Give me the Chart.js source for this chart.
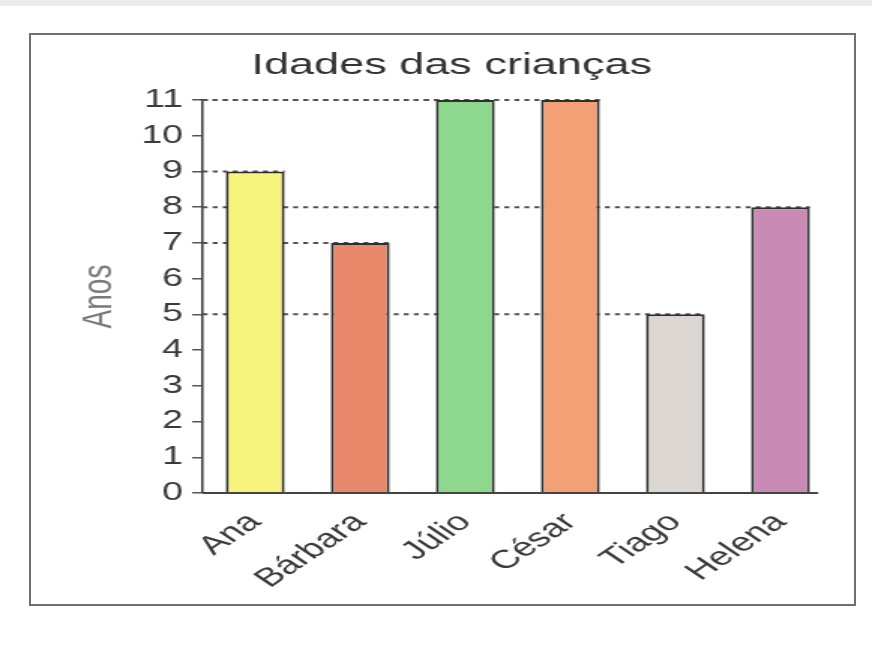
<!DOCTYPE html>
<html>
<head>
<meta charset="utf-8">
<script src="https://cdn.jsdelivr.net/npm/chart.js"></script>
<style>
  body { margin: 0; background: #fff; }
  #wrap { position: relative; width: 872px; height: 652px; overflow: hidden; }
  #faixa { position: absolute; left: 0; top: 0; width: 872px; height: 6px; background: #ececec; }
  #myChart { position: absolute; left: 0; top: 0; }
  #frame { position: absolute; left: 29px; top: 33px; width: 823px; height: 569px; border: 2px solid #707070; pointer-events: none; }
</style>
</head>
<body>
<div id="wrap">
  <!-- o grafico original e uma digitalizacao esticada na horizontal: desenhamos mais estreito e esticamos -->
  <canvas id="myChart" width="581" height="652" style="width:872px;height:652px"></canvas>
  <div id="faixa"></div>
  <div id="frame"></div>
</div>
<script>
var criancas = ["Ana", "Bárbara", "Júlio", "César", "Tiago", "Helena"];
var idades = [9, 7, 11, 11, 5, 8];
var barColors = ["#f8f37c", "#e9896b", "#8ed88e", "#f3a077", "#dcd7d3", "#c98bb6"];

// linhas tracejadas do eixo ate o topo de cada barra (atras das barras) + linha de base
var linhasGuia = {
  id: "linhasGuia",
  beforeDatasetsDraw: function(chart) {
    var ctx = chart.ctx;
    var meta = chart.getDatasetMeta(0);
    var left = chart.chartArea.left;
    ctx.save();
    ctx.strokeStyle = "#505050";
    ctx.lineWidth = 2;
    ctx.setLineDash([3.3, 3.4]);
    meta.data.forEach(function(bar) {
      ctx.beginPath();
      ctx.moveTo(left, bar.y);
      ctx.lineTo(bar.x + bar.width / 2, bar.y);
      ctx.stroke();
    });
    ctx.restore();
  },
  afterDatasetsDraw: function(chart) {
    var ctx = chart.ctx;
    var meta = chart.getDatasetMeta(0);
    var last = meta.data[meta.data.length - 1];
    var y = chart.chartArea.bottom;
    ctx.save();
    ctx.strokeStyle = "#444";
    ctx.lineWidth = 2;
    ctx.beginPath();
    ctx.moveTo(chart.chartArea.left, y);
    ctx.lineTo(last.x + last.width * 0.64, y);
    ctx.stroke();
    ctx.restore();
  }
};

new Chart("myChart", {
  type: "bar",
  data: {
    labels: criancas,
    datasets: [{
      data: idades,
      backgroundColor: barColors,
      borderColor: "#2e2e2e",
      borderWidth: 2,
      borderSkipped: "bottom",
      categoryPercentage: 1,
      barPercentage: 0.56
    }]
  },
  options: {
    responsive: false,
    animation: false,
    devicePixelRatio: 1,
    layout: { padding: { left: 47, right: 26, top: 40, bottom: 10 } },
    plugins: {
      legend: { display: false },
      tooltip: { enabled: false },
      title: {
        display: true,
        text: "Idades das crianças",
        color: "#333",
        font: { family: "Liberation Sans", size: 30, weight: "normal" },
        padding: { top: 8, bottom: 16 }
      }
    },
    scales: {
      x: {
        grid: { display: false },
        border: { display: false },
        ticks: {
          color: "#3a3a3a",
          font: { family: "Liberation Sans", size: 26 },
          minRotation: 45,
          maxRotation: 45,
          autoSkip: false,
          padding: 6
        },
        afterFit: function(s) { s.height = 149; }
      },
      y: {
        min: 0,
        max: 11,
        ticks: {
          stepSize: 1,
          color: "#3a3a3a",
          font: { family: "Liberation Sans", size: 25 },
          padding: 6
        },
        grid: { drawOnChartArea: false, drawTicks: true, tickLength: 7, color: "#555", lineWidth: 1.5 },
        border: { display: true, color: "#444", width: 1.6 },
        title: {
          display: true,
          text: "Anos",
          color: "#7a7a7a",
          font: { family: "Liberation Sans", size: 28 },
          padding: { top: 2, bottom: 0 }
        },
        afterFit: function(s) { s.width = 88; }
      }
    }
  },
  plugins: [linhasGuia]
});
</script>
</body>
</html>
